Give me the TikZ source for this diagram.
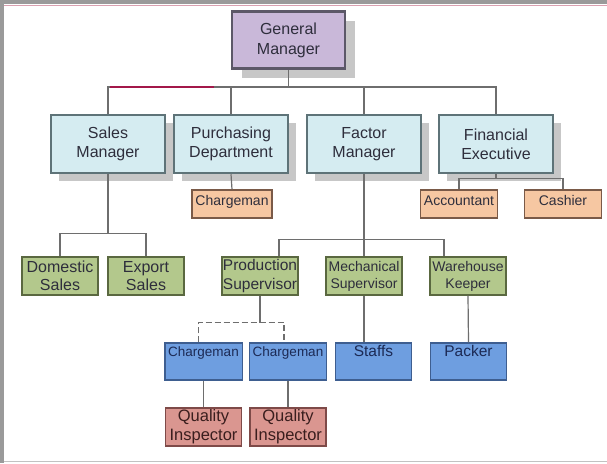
\documentclass[tikz,border=0pt]{standalone}
\usepackage{fontspec}
\setmainfont{Liberation Sans}
\usepackage{xcolor}
\usetikzlibrary{shadows,calc}

\definecolor{gmfill}{HTML}{C9B8D9}
\definecolor{gmline}{HTML}{5C5868}
\definecolor{deptfill}{HTML}{D5ECF1}
\definecolor{deptline}{HTML}{5E7378}
\definecolor{orgfill}{HTML}{F6C7A2}
\definecolor{orgline}{HTML}{7A5A48}
\definecolor{grnfill}{HTML}{B3C88C}
\definecolor{grnline}{HTML}{5A6840}
\definecolor{blufill}{HTML}{6E9EE0}
\definecolor{bluline}{HTML}{3E5E90}
\definecolor{pnkfill}{HTML}{DA9690}
\definecolor{pnkline}{HTML}{7E4A48}
\definecolor{linegray}{HTML}{6E6E6E}
\definecolor{accent}{HTML}{A3184A}
\definecolor{framegray}{HTML}{9A9A9A}
\definecolor{framepink}{HTML}{D9A0B0}
\definecolor{textdark}{HTML}{2E2E3C}
\definecolor{textnavy}{HTML}{1C2A55}
\definecolor{textbrown}{HTML}{3A1E1E}

\tikzset{
    gm/.style={rectangle, draw=gmline, line width=2.5pt, fill=gmfill, minimum width=113pt, minimum height=57pt, align=center, text=textdark, font={\fontsize{16}{20}\selectfont}, drop shadow={shadow xshift=10pt, shadow yshift=-9pt, fill=black!22, opacity=1}},
    dept/.style={rectangle, draw=deptline, line width=2.5pt, fill=deptfill, minimum width=114pt, minimum height=58pt, align=center, text=textdark, font={\fontsize{16}{19}\selectfont}, drop shadow={shadow xshift=8pt, shadow yshift=-8pt, fill=black!22, opacity=1}},
    sect/.style={rectangle, draw=orgline, line width=1.2pt, fill=orgfill, minimum width=77pt, inner ysep=0pt, text height=15pt, text depth=13pt, align=center, text=textdark, font={\fontsize{14}{16}\selectfont}},
    unit/.style={rectangle, draw=grnline, line width=1.2pt, fill=grnfill, minimum width=76pt, minimum height=38pt, inner xsep=1pt, inner ysep=1pt, align=center, text=textdark, font={\fontsize{16}{18.5}\selectfont}},
    crew/.style={rectangle, draw=bluline, line width=1.2pt, fill=blufill, minimum width=76pt, inner ysep=0pt, text height=13pt, text depth=24pt, align=center, text=textnavy, font={\fontsize{13.5}{16}\selectfont}},
    qc/.style={rectangle, draw=pnkline, line width=1.2pt, fill=pnkfill, minimum width=76pt, minimum height=38pt, inner ysep=1pt, align=center, text=textbrown, font={\fontsize{16.5}{19}\selectfont}},
    link/.style={draw=linegray, line width=1.2pt},
}

\begin{document}
\begin{tikzpicture}[x=1pt,y=-1pt]
    \useasboundingbox (0,0) rectangle (607,463);
    \fill[white] (0,0) rectangle (607,463);
    \fill[framegray] (0,0) rectangle (4,463);
    \fill[framegray] (0,0) rectangle (607,4);
    \draw[framepink, line width=0.6pt] (4,5.5) -- (607,5.5);
    \draw[framegray!60, line width=1pt] (4,461) -- (607,461);

    % top
    \node[gm] (gm) at (288.5,40) {General\\Manager};

    % managers
    \node[dept] (sm) at (108,144) {Sales\\Manager};
    \node[dept] (pd) at (231,144) {Purchasing\\Department};
    \node[dept] (fm) at (364,144) {Factor\\Manager};
    \node[dept] (fe) at (496,144) {Financial\\Executive};

    % sections
    \node[sect] (pc) at (232,204) {Chargeman};
    \node[sect] (ac) at (459,204) {Accountant};
    \node[sect] (ca) at (563,204) {Cashier};

    % units
    \node[unit] (ds) at (60,276) {Domestic\\Sales};
    \node[unit] (es) at (146,276) {Export\\Sales};
    \node[unit, font={\fontsize{15.5}{18.5}\selectfont}] (ps) at (260,276) {Production\\Supervisor};
    \node[unit, font={\fontsize{14}{17}\selectfont}] (ms) at (364,276) {Mechanical\\Supervisor};
    \node[unit, font={\fontsize{14}{17}\selectfont}] (wk) at (468,276) {Warehouse\\Keeper};

    % crews
    \node[crew] (c1) at (203.5,361.5) {Chargeman};
    \node[crew] (c2) at (288,361.5) {Chargeman};
    \node[crew, font={\fontsize{15.5}{17}\selectfont}] (st) at (373.5,361.5) {Staffs};
    \node[crew, font={\fontsize{15.5}{17}\selectfont}] (pk) at (468.5,361.5) {Packer};

    % inspectors
    \node[qc] (q1) at (203.5,427) {Quality\\Inspector};
    \node[qc] (q2) at (288,427) {Quality\\Inspector};

    % connectors
    \coordinate (bus) at (288.5,87);
    \draw[link] (gm.south) -- (bus);
    \draw[link] (sm.north) -- (sm.north |- bus) -- (fe.north |- bus) -- (fe.north);
    \draw[link] (pd.north) -- (pd.north |- bus);
    \draw[link] (fm.north) -- (fm.north |- bus);
    \draw[accent, line width=2pt] ($(sm.north |- bus)+(2,0)$) -- ($(pd.north |- bus)+(-17,0)$);

    \draw[link] (sm.south) -- ++(0,59) coordinate (sb);
    \draw[link] (ds.north) |- (sb) -| (es.north);

    \draw[link] (pd.south) -- (pc.north);

    \draw[link] (fe.south) -- ++(0,4) coordinate (fb);
    \draw[link] (ac.north) |- (fb) -| (ca.north);

    \draw[link] (fm.south) -- ++(0,65) coordinate (ff);
    \draw[link] ($(ps.north)+(19,0)$) |- (ff) -| ($(wk.north)+(-24,0)$);
    \draw[link] (ms.north) -- (ms.north |- ff);

    \draw[link] (ps.south) -- ++(0,27) coordinate (pb);
    \draw[link, dash pattern=on 6pt off 3pt] ($(c1.north)+(-5,0)$) |- (pb) -| ($(c2.north)+(-4,0)$);
    \draw[link] (ms.south) -- (ms.south |- st.north);
    \draw[link] (wk.south) -- (pk.north);

    \draw[link] (c1.south) -- (q1.north);
    \draw[link] (c2.south) -- (q2.north);
\end{tikzpicture}
\end{document}
